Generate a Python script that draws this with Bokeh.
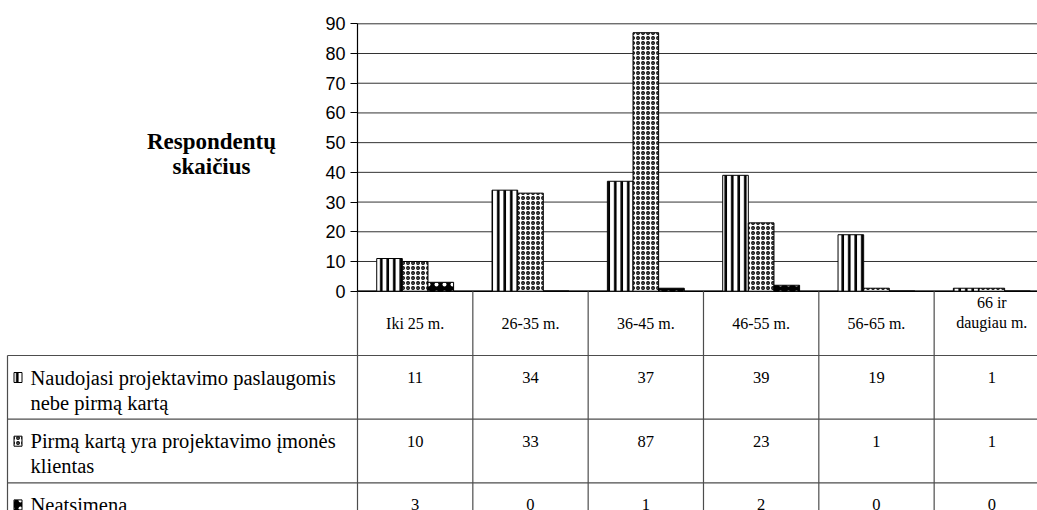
from bokeh.plotting import figure
from bokeh.models import Range1d, FixedTicker, ColumnDataSource, LinearAxis
from bokeh.transform import dodge
from bokeh.embed import file_html
from bokeh.resources import INLINE
from bokeh.core.properties import value

# ---- data ----
age_groups = ["Iki 25 m.", "26-35 m.", "36-45 m.", "46-55 m.", "56-65 m.", "66 ir\ndaugiau m."]
series_labels = [
    "Naudojasi projektavimo paslaugomis\nnebe pirmą kartą",
    "Pirmą kartą yra projektavimo įmonės\nklientas",
    "Neatsimena",
]
repeat_clients = [11, 34, 37, 39, 19, 1]
first_time_clients = [10, 33, 87, 23, 1, 1]
dont_remember = [3, 0, 1, 2, 0, 0]
y_ticks = [0, 10, 20, 30, 40, 50, 60, 70, 80, 90]
y_title = "Respondentų\nskaičius"

# ---- page geometry (pixels) ----
WIDTH, HEIGHT = 1037, 510
X0 = 357.0          # left edge of the plotting area
Y0 = 290.7          # pixel row of value 0
CAT = 115.33        # width of one category column
PXU = 2.9711        # pixels per value unit
BAR_W = 1 / 4.5     # three bars plus a 150% gap


def xd(px):
    return (px - X0) / CAT


def yd(py):
    return (Y0 - py) / PXU


SERIF = value("Liberation Serif")

styles = [
    dict(fill_color="white", hatch_pattern="vertical_line", hatch_color="black",
         hatch_scale=6.5, hatch_weight=2.6),
    dict(fill_color="white", hatch_pattern="ring", hatch_color="black",
         hatch_scale=5, hatch_weight=1.3),
    dict(fill_color="black", hatch_pattern="dot", hatch_color="white",
         hatch_scale=8, hatch_weight=2),
]
series_values = [repeat_clients, first_time_clients, dont_remember]
n = len(age_groups)
x_end = xd(WIDTH)

p = figure(width=WIDTH, height=HEIGHT,
           x_range=Range1d(xd(0), x_end), y_range=Range1d(yd(HEIGHT), yd(0)),
           output_backend="svg", toolbar_location=None, min_border=0,
           x_axis_type=None, y_axis_type=None)
p.outline_line_color = None
p.grid.visible = False

# ---- value axis ----
yaxis = LinearAxis(fixed_location=0, bounds=(0, 90), ticker=FixedTicker(ticks=y_ticks))
yaxis.major_label_text_font = "Liberation Sans"
yaxis.major_label_text_font_size = "18px"
yaxis.major_label_text_color = "black"
yaxis.major_tick_out = 7
yaxis.major_tick_in = 0
yaxis.minor_tick_out = 0
yaxis.minor_tick_in = 0
yaxis.major_label_standoff = 5
yaxis.axis_line_color = "black"
yaxis.axis_line_width = 1.2
yaxis.major_tick_line_color = "black"
p.add_layout(yaxis, "left")

# horizontal gridlines
p.segment(x0=[0] * len(y_ticks), y0=y_ticks, x1=[x_end] * len(y_ticks), y1=y_ticks,
          line_color="#333333", line_width=1)
p.segment(x0=[0], y0=[0], x1=[x_end], y1=[0], line_color="black", line_width=1.6)

# ---- bars ----
src = ColumnDataSource(dict(
    center=[i + 0.5 for i in range(n)],
    s0=repeat_clients, s1=first_time_clients, s2=dont_remember,
))
offsets = [-BAR_W, 0, BAR_W]
for k in range(3):
    p.vbar(x=dodge("center", offsets[k], range=p.x_range), top=f"s{k}",
           width=BAR_W, bottom=0, source=src, line_color="black", line_width=1,
           **styles[k])

# axis title
p.text(x=[xd(211)], y=[yd(153)], text=[y_title], text_font=SERIF,
       text_font_style="bold", text_font_size="23px", text_align="center",
       text_baseline="middle", text_line_height=1.0, text_color="black")

# ---- data table ----
grid_col = "#4d4d4d"
row_tops = [355 + 63.7 * r for r in range(len(series_labels))]
table_left = xd(7)

# column separators
p.segment(x0=list(range(n + 1)), y0=[0] * (n + 1),
          x1=list(range(n + 1)), y1=[yd(HEIGHT)] * (n + 1),
          line_color=grid_col, line_width=1.2)
# row separators and left border
p.segment(x0=[table_left] * len(row_tops), y0=[yd(t) for t in row_tops],
          x1=[x_end] * len(row_tops), y1=[yd(t) for t in row_tops],
          line_color=grid_col, line_width=1.2)
p.segment(x0=[table_left], y0=[yd(row_tops[0])], x1=[table_left], y1=[yd(HEIGHT)],
          line_color=grid_col, line_width=1.2)

# column headers
hx, hy, ht = [], [], []
for i, g in enumerate(age_groups):
    lines = g.split("\n")
    for j, ln in enumerate(lines):
        hx.append(i + 0.5)
        hy.append(yd(323 - 21 * (len(lines) - 1) + 20 * j))
        ht.append(ln)
p.text(x=hx, y=hy, text=ht, text_font=SERIF, text_font_size="16px",
       text_align="center", text_baseline="middle", text_color="black")

# row labels, legend keys and values
lx, ly, lt = [], [], []
vx, vy, vt = [], [], []
for r, lab in enumerate(series_labels):
    first = row_tops[r] + 22
    for j, ln in enumerate(lab.split("\n")):
        lx.append(xd(30))
        ly.append(yd(first + 25 * j))
        lt.append(ln)
    for i, v in enumerate(series_values[r]):
        vx.append(i + 0.5)
        vy.append(yd(first))
        vt.append(str(v))
    p.rect(x=[xd(17.5)], y=[yd(first)], width=8, height=10,
           width_units="screen", height_units="screen",
           line_color="black", line_width=1, **styles[r])

p.text(x=lx, y=ly, text=lt, text_font=SERIF, text_font_size="20.5px",
       text_align="left", text_baseline="middle", text_color="black")
p.text(x=vx, y=vy, text=vt, text_font=SERIF, text_font_size="16.5px",
       text_align="center", text_baseline="middle", text_color="black")

open("out.html", "w").write(file_html(p, INLINE))
